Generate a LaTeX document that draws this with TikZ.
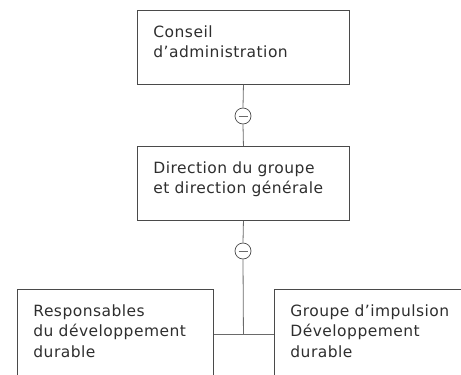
\documentclass[tikz,border=0pt]{standalone}
\usepackage{fontspec}
\setmainfont{DejaVu Sans}[LetterSpace=3]
\usetikzlibrary{calc}
\definecolor{textgrey}{HTML}{2E2E2E}
\definecolor{boxgrey}{HTML}{4A4A4A}
\definecolor{linkgrey}{HTML}{6A6A6A}
\tikzset{
    orgbox/.style={draw=boxgrey, line width=0.9pt, anchor=north west, align=left,
        text=textgrey, font=\fontsize{15.5}{20.5}\selectfont,
        inner xsep=16pt, inner ysep=0pt, text width=180pt,
        text height=27pt, text depth=47pt},
    veto/.style={draw=boxgrey, line width=0.7pt, circle, inner sep=0pt, minimum size=16pt,
        fill=white,
        path picture={\draw[linkgrey, line width=0.7pt]
            ([xshift=3.5pt]path picture bounding box.west) --
            ([xshift=-3.5pt]path picture bounding box.east);}},
    link/.style={draw=linkgrey, line width=0.8pt}
}
\begin{document}
\begin{tikzpicture}[x=1pt, y=-1pt]
    \useasboundingbox (0,0) rectangle (461,375);
    \clip (0,0) rectangle (461,375);
    % Boxes
    \node[orgbox] (conseil) at (137,10) {Conseil\\d’administration};
    \node[orgbox] (direction) at (137,146) {Direction du groupe\\et direction générale};
    \node[orgbox, text width=164pt, text depth=63pt] (responsables) at (17,289) {Responsables\\du développement\\durable};
    \node[orgbox, text width=200pt, text depth=63pt] (impulsion) at (274,289) {Groupe d’impulsion\\Développement\\durable};
    % Circles
    \node[veto] (vetoA) at (243,116) {};
    \node[veto] (vetoB) at (243,251) {};
    \coordinate (junction) at (direction.south |- responsables.east);
    % Top link
    \draw[link] (conseil.south) -- (vetoA.north);
    \draw[link] (vetoA.south) -- (direction.north);
    % Bottom links
    \draw[link] (direction.south) -- (vetoB.north);
    \draw[link] (vetoB.south) -- (junction);
    \draw[link] (responsables.east) -- (impulsion.west);
\end{tikzpicture}
\end{document}
